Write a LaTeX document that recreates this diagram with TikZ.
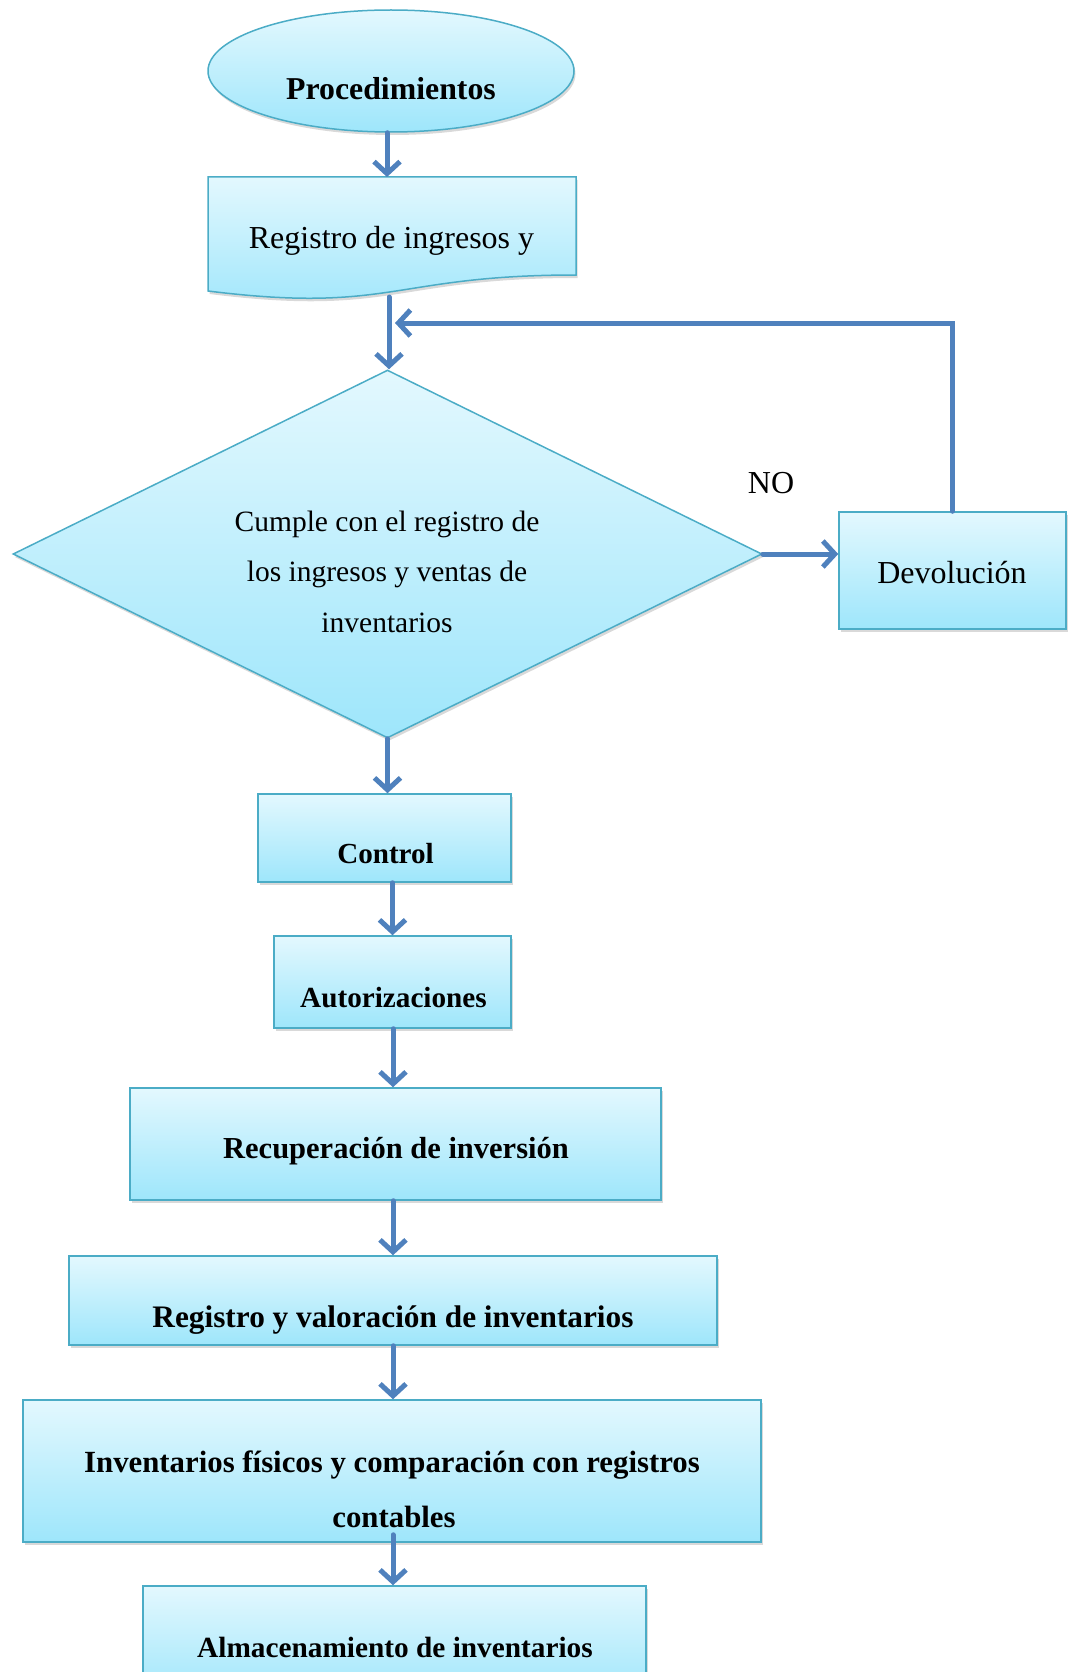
\documentclass[tikz,border=0pt]{standalone}
\usepackage{fontspec}
\setmainfont{Liberation Serif}
\usetikzlibrary{shapes.geometric,shadows,arrows.meta}
\definecolor{fillTop}{HTML}{E3F8FE}
\definecolor{fillBot}{HTML}{9EE6FB}
\definecolor{edgec}{HTML}{4BACC6}
\definecolor{arrowc}{HTML}{4F81BD}
\begin{document}
\begin{tikzpicture}[x=1pt,y=-1pt,
  shp/.style={draw=edgec, line width=1.5pt, top color=fillTop, bottom color=fillBot,
    drop shadow={shadow xshift=1.5pt, shadow yshift=-3pt, opacity=0.3}},
  boxn/.style={shp, rectangle, inner sep=0pt},
  arr/.style={draw=arrowc, line width=5pt, line cap=round,
    -{Straight Barb[length=12pt,width=26pt,line width=5pt]}},
  txt/.style={inner sep=0pt, anchor=base},
  fs/.style={font={\fontsize{#1}{#1}\selectfont}},
  fb/.style={font={\fontsize{#1}{#1}\selectfont\bfseries}},
]
\useasboundingbox (0,0) rectangle (1069,1672);

% shapes
\node[shp, ellipse, inner sep=0pt, minimum width=366pt, minimum height=122pt] (proc) at (391,71) {};
\path[shp] (208,177) -- (576,177) -- (576,275) .. controls (392,275) and (392,314) .. (208,291) -- cycle;
\coordinate (doctop) at (387,177);
\coordinate (docbot) at (389,297);
\node[shp, diamond, inner sep=0pt, minimum width=749pt, minimum height=368pt] (dia) at (387.5,554) {};
\node[boxn, minimum width=227pt, minimum height=117pt] (dev) at (952.5,570.5) {};
\node[boxn, minimum width=253pt, minimum height=88pt] (ctrl) at (384.5,838) {};
\node[boxn, minimum width=237pt, minimum height=92pt] (aut) at (392.5,982) {};
\node[boxn, minimum width=531pt, minimum height=112pt] (rec) at (395.5,1144) {};
\node[boxn, minimum width=648pt, minimum height=89pt] (rvi) at (393,1300.5) {};
\node[boxn, minimum width=738pt, minimum height=142pt] (inv) at (392,1471) {};
\node[boxn, minimum width=503pt, minimum height=114pt] (alm) at (394.5,1643) {};
\coordinate (axis) at (393,0);
\coordinate (fbend) at (395,323);

% texts
\node[txt, fb=31.8] (tproc) at (391,100) {Procedimientos};
\node[txt, fs=32] (tdoc) at (391.5,248) {Registro de ingresos y};
\node[txt, fs=29.5] (d1) at (387,531) {Cumple con el registro de};
\node[txt, fs=29.5] (d2) at (387,581) {los ingresos y ventas de};
\node[txt, fs=29.5] (d3) at (387,632) {inventarios};
\node[txt, fs=32] (tdev) at (952,583) {Devolución};
\node[txt, fs=32] (tno) at (771,493) {NO};
\node[txt, fb=29.1] (tctrl) at (385.5,863) {Control};
\node[txt, fb=29.2] (taut) at (393.5,1007) {Autorizaciones};
\node[txt, fb=30.5] (trec) at (396,1158) {Recuperación de inversión};
\node[txt, fb=31.3] (trvi) at (393,1327) {Registro y valoración de inventarios};
\node[txt, fb=30.8] (tinv1) at (392,1472) {Inventarios físicos y comparación con registros};
\node[txt, fb=30.8] (tinv2) at (394,1527) {contables};
\node[txt, fb=29.3] (talm) at (395,1657) {Almacenamiento de inventarios};

% connectors
\draw[arr] (proc.south -| doctop) -- (doctop);
\draw[arr] (docbot) -- (docbot |- dia.north);
\draw[arr] (dev.north) |- (fbend);
\draw[arr] (dia.east) -- (dia.east -| dev.west);
\draw[arr] (dia.south) -- (dia.south |- ctrl.north);
\draw[arr] (aut.north |- ctrl.south) -- (aut.north);
\draw[arr] (axis |- aut.south) -- (axis |- rec.north);
\draw[arr] (axis |- rec.south) -- (axis |- rvi.north);
\draw[arr] (axis |- rvi.south) -- (axis |- inv.north);
\draw[arr] ([yshift=8pt]inv.south -| axis) -- (axis |- alm.north);
\end{tikzpicture}
\end{document}
